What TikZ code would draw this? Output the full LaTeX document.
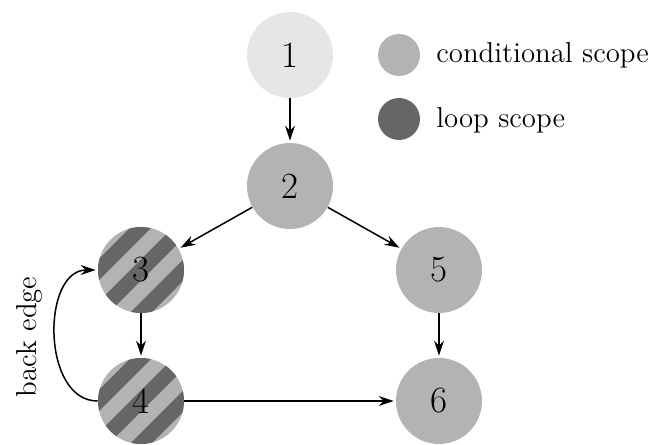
\documentclass[tikz,border=0pt]{standalone}
\usetikzlibrary{arrows.meta}
\definecolor{startc}{HTML}{E6E6E6}
\definecolor{condc}{HTML}{B3B3B3}
\definecolor{loopc}{HTML}{666666}
\begin{document}
\begin{tikzpicture}[x=0.5pt,y=-0.5pt,
  numfont/.style={font=\fontsize{18.5}{22}\selectfont},
  txtfont/.style={font=\fontsize{14.4}{17}\selectfont},
  basenode/.style={circle, draw=none, inner sep=0pt, minimum size=43pt, numfont},
  startnode/.style={basenode, fill=startc},
  condnode/.style={basenode, fill=condc},
  loopnode/.style={basenode, fill=condc,
    path picture={
      \foreach \k in {-3,...,3}{
        \draw[line width=7.5pt, loopc]
          ([shift={(\k*10.61pt-30pt,-\k*10.61pt-30pt)}]path picture bounding box.center) -- ++(60pt,60pt);
      }
    }},
  legdot/.style={circle, draw=none, inner sep=0pt, minimum size=21pt},
  legtext/.style={txtfont, anchor=base west, inner sep=0pt},
  arr/.style={-{Stealth[length=7.5pt,width=5pt,inset=2.5pt]}, line width=0.75pt, shorten >=1pt}
]
\useasboundingbox (0,0) rectangle (652,444);

\node[startnode] (n1) at (290,55) {1};
\node[condnode]  (n2) at (290,186) {2};
\node[loopnode]  (n3) at (141,270) {3};
\node[loopnode]  (n4) at (141,401) {4};
\node[condnode]  (n5) at (439,270) {5};
\node[condnode]  (n6) at (439,401) {6};

\node[legdot, fill=condc] (l1) at (399,55) {};
\node[legtext] (l1t) at (436,62) {conditional scope};
\node[legdot, fill=loopc] (l2) at (399,119) {};
\node[legtext] (l2t) at (436,127) {loop scope};

\draw[arr] (n1) -- (n2);
\draw[arr] (n2) -- (n3);
\draw[arr] (n2) -- (n5);
\draw[arr] (n3) -- (n4);
\draw[arr] (n5) -- (n6);
\draw[arr] (n4) -- (n6);
\draw[arr] (n4.west) to[out=180,in=180,looseness=1.1] (n3.west);

\node[txtfont, rotate=90, anchor=base, inner sep=0pt] (be) at (36,337) {back edge};
\end{tikzpicture}
\end{document}
